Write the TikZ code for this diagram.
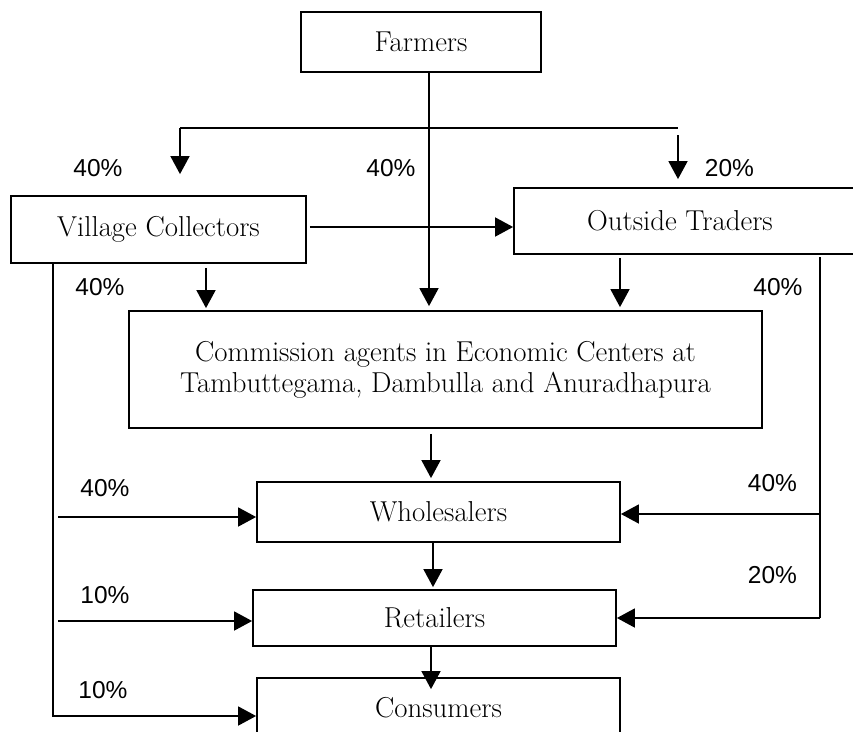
\documentclass[tikz,border=0pt]{standalone}
\usepackage{fontspec}
\newfontfamily\pctfont{Liberation Sans}
\usetikzlibrary{arrows.meta}
\begin{document}
\begin{tikzpicture}[x=1pt,y=-1pt,
  box/.style={draw,line width=1.8pt,inner sep=0pt,align=center,
    font=\fontsize{28.8}{31}\selectfont},
  arr/.style={line width=1.7pt,-{Triangle[length=18pt,width=19pt]}},
  ln/.style={line width=1.7pt},
  pct/.style={inner sep=0pt,font=\pctfont\fontsize{24.5}{29}\selectfont}]
\clip (0,0) rectangle (853,731);

% boxes
\node[box,minimum width=240pt,minimum height=60pt] (farmers) at (421,42) {Farmers};
\node[box,minimum width=295pt,minimum height=67pt] (vc) at (158.5,229.5) {Village Collectors};
\node[box,minimum width=360pt,minimum height=66pt] (ot) at (694,221)
  {\hspace*{-28pt}Outside Traders};
\node[box,minimum width=633pt,minimum height=117pt] (comm) at (445.5,369.5)
  {Commission agents in Economic Centers at\\Tambuttegama, Dambulla and Anuradhapura};
\node[box,minimum width=363pt,minimum height=60pt] (whol) at (438.5,512) {Wholesalers};
\node[box,minimum width=363pt,minimum height=56pt] (ret) at (434.5,618) {Retailers};
\node[box,minimum width=363pt,minimum height=60pt] (cons) at (438.5,708) {Consumers};

% guide coordinates for the connectors
\coordinate (fx) at (429,0);
\coordinate (bl) at (180,128);
\coordinate (br) at (678,128);
\coordinate (h1) at (0,227);
\coordinate (vx) at (206,0);
\coordinate (ox) at (620,0);
\coordinate (lt) at (53,264);
\coordinate (lb) at (53,716);
\coordinate (lw) at (58,517);
\coordinate (lr) at (58,621);
\coordinate (rt) at (820,257);
\coordinate (rw) at (820,514);
\coordinate (rb) at (820,618);
\coordinate (cx) at (431,0);
\coordinate (wx) at (433,0);

% farmers split
\draw[arr,shorten >=4pt] (farmers.south -| fx) -- (comm.north -| fx);
\draw[ln] (bl) -- (br);
\draw[arr,shorten >=21pt] (bl) -- (bl |- vc.north);
\draw[arr,shorten <=7pt,shorten >=8pt] (br) -- (br |- ot.north);

% collectors and traders
\draw[arr,shorten <=3pt] (vc.east |- h1) -- (ot.west |- h1);
\draw[arr,shorten <=4pt,shorten >=2pt] (vc.south -| vx) -- (comm.north -| vx);
\draw[arr,shorten <=3pt,shorten >=3pt] (ot.south -| ox) -- (comm.north -| ox);

% left bypass from collectors
\draw[arr] (lt) -- (lb) -- (cons.west |- lb);
\draw[arr] (lw) -- (whol.west |- lw);
\draw[arr] (lr) -- (ret.west |- lr);

% right bypass from outside traders
\draw[ln] (rt) -- (rb);
\draw[arr] (rw) -- (whol.east |- rw);
\draw[arr] (rb) -- (ret.east |- rb);

% main chain
\draw[arr,shorten <=5pt,shorten >=3pt] (comm.south -| cx) -- (whol.north -| cx);
\draw[arr,shorten >=2pt] (whol.south -| wx) -- (ret.north -| wx);
\draw[arr,shorten >=-12pt] (ret.south -| cx) -- (cons.north -| cx);

% shares
\node[pct] (p1) at (98,168) {40\%};
\node[pct] (p2) at (391,168) {40\%};
\node[pct] (p3) at (729.5,168) {20\%};
\node[pct] (p4) at (100,287) {40\%};
\node[pct] (p5) at (778,287) {40\%};
\node[pct] (p6) at (105,488) {40\%};
\node[pct] (p7) at (772.5,483) {40\%};
\node[pct] (p8) at (772.5,575) {20\%};
\node[pct] (p9) at (105,595) {10\%};
\node[pct] (p10) at (103,690) {10\%};
\end{tikzpicture}
\end{document}
